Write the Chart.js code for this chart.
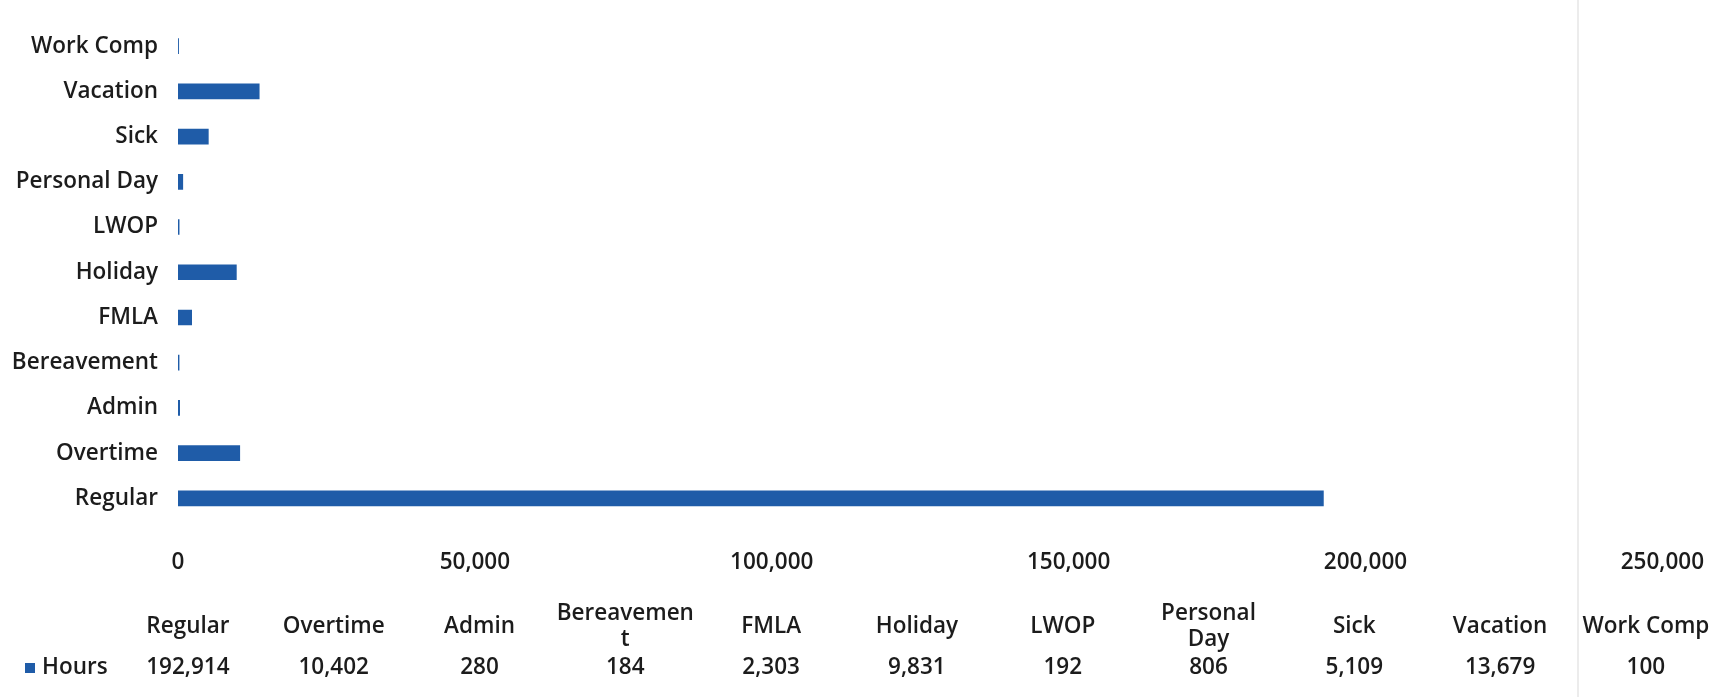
<!DOCTYPE html>
<html>
<head>
<meta charset="utf-8">
<title>Hours by type</title>
<script src="https://cdn.jsdelivr.net/npm/chart.js@4.4.1/dist/chart.umd.min.js"></script>
<style>
  html, body { margin:0; padding:0; background:#fff; overflow:hidden; }
  #wrap { position:relative; width:1732px; height:697px; overflow:hidden; }
  #chart { position:absolute; left:0; top:-10px; }
</style>
</head>
<body>
<div id="wrap"><canvas id="chart" width="1732" height="720"></canvas></div>
<script>
const categories = ['Regular','Overtime','Admin','Bereavement','FMLA','Holiday','LWOP','Personal Day','Sick','Vacation','Work Comp'];
const hours = [192914,10402,280,184,2303,9831,192,806,5109,13679,100];
const xTicks = [0,50000,100000,150000,200000,250000];
const seriesName = 'Hours';

const FONT = '"Open Sans", "Liberation Sans", sans-serif';
const TEXT = '#1c1c1c';
const BAR = '#1f5ca8';
const SIZE = 22.5;
const fmt = v => v.toLocaleString('en-US');

// excel style data table under the plot
const dataTable = {
  id:'dataTable',
  afterDraw(chart){
    const ctx = chart.ctx;
    const left = 115, colW = 145.8;
    const headY = 637, valY = 678, lineH = 26, maxW = 141;
    ctx.save();
    ctx.fillStyle = TEXT;
    ctx.textAlign = 'center';
    ctx.textBaseline = 'middle';
    ctx.font = '600 ' + SIZE + 'px ' + FONT;
    categories.forEach((c, i) => {
      const cx = left + (i + .5) * colW;
      // wrap like excel: words first, then characters
      const lines = [];
      let cur = '';
      c.split(' ').forEach(w => {
        const t = cur ? cur + ' ' + w : w;
        if(ctx.measureText(t).width <= maxW){ cur = t; return; }
        if(cur) lines.push(cur);
        cur = '';
        for(const ch of w){
          if(ctx.measureText(cur + ch).width > maxW){ lines.push(cur); cur = ch; }
          else cur += ch;
        }
      });
      if(cur) lines.push(cur);
      const y0 = headY - (lines.length - 1) * lineH / 2;
      lines.forEach((l, k) => ctx.fillText(l, cx, y0 + k * lineH));
      ctx.fillText(fmt(hours[i]), cx, valY);
    });
    // legend key
    ctx.fillStyle = BAR;
    ctx.fillRect(25, valY - 5, 10, 10);
    ctx.fillStyle = TEXT;
    ctx.textAlign = 'left';
    ctx.fillText(seriesName, 42, valY);
    // faint column border
    ctx.strokeStyle = '#ececec';
    ctx.lineWidth = 2;
    ctx.beginPath();
    ctx.moveTo(left + 10 * colW + 5, 0);
    ctx.lineTo(left + 10 * colW + 5, chart.height);
    ctx.stroke();
    ctx.restore();
  }
};

new Chart(document.getElementById('chart'), {
  type:'bar',
  data:{
    labels:categories,
    datasets:[{
      label:seriesName,
      data:hours,
      backgroundColor:BAR,
      borderWidth:0,
      barThickness:15
    }]
  },
  options:{
    indexAxis:'y',
    responsive:false, animation:false,
    devicePixelRatio:1,
    layout:{ padding:{ top:6, right:54, left:0, bottom:0 } },
    plugins:{ legend:{ display:false }, tooltip:{ enabled:false } },
    scales:{
      x:{
        min:0, max:250000,
        grid:{ display:false, drawTicks:false },
        border:{ display:false },
        afterBuildTicks: s => { s.ticks = xTicks.map(v => ({ value:v })); },
        afterFit: s => { s.height = 189; },
        ticks:{ padding:28, maxRotation:0, color:TEXT, font:{ family:FONT, size:SIZE, weight:600 }, callback:v => fmt(v) }
      },
      y:{
        reverse:true,
        grid:{ display:false, drawTicks:false },
        border:{ display:false },
        afterFit: s => { s.width = 178; },
        ticks:{ padding:20, color:TEXT, font:{ family:FONT, size:SIZE, weight:600 } }
      }
    }
  },
  plugins:[dataTable]
});
</script>
</body>
</html>
